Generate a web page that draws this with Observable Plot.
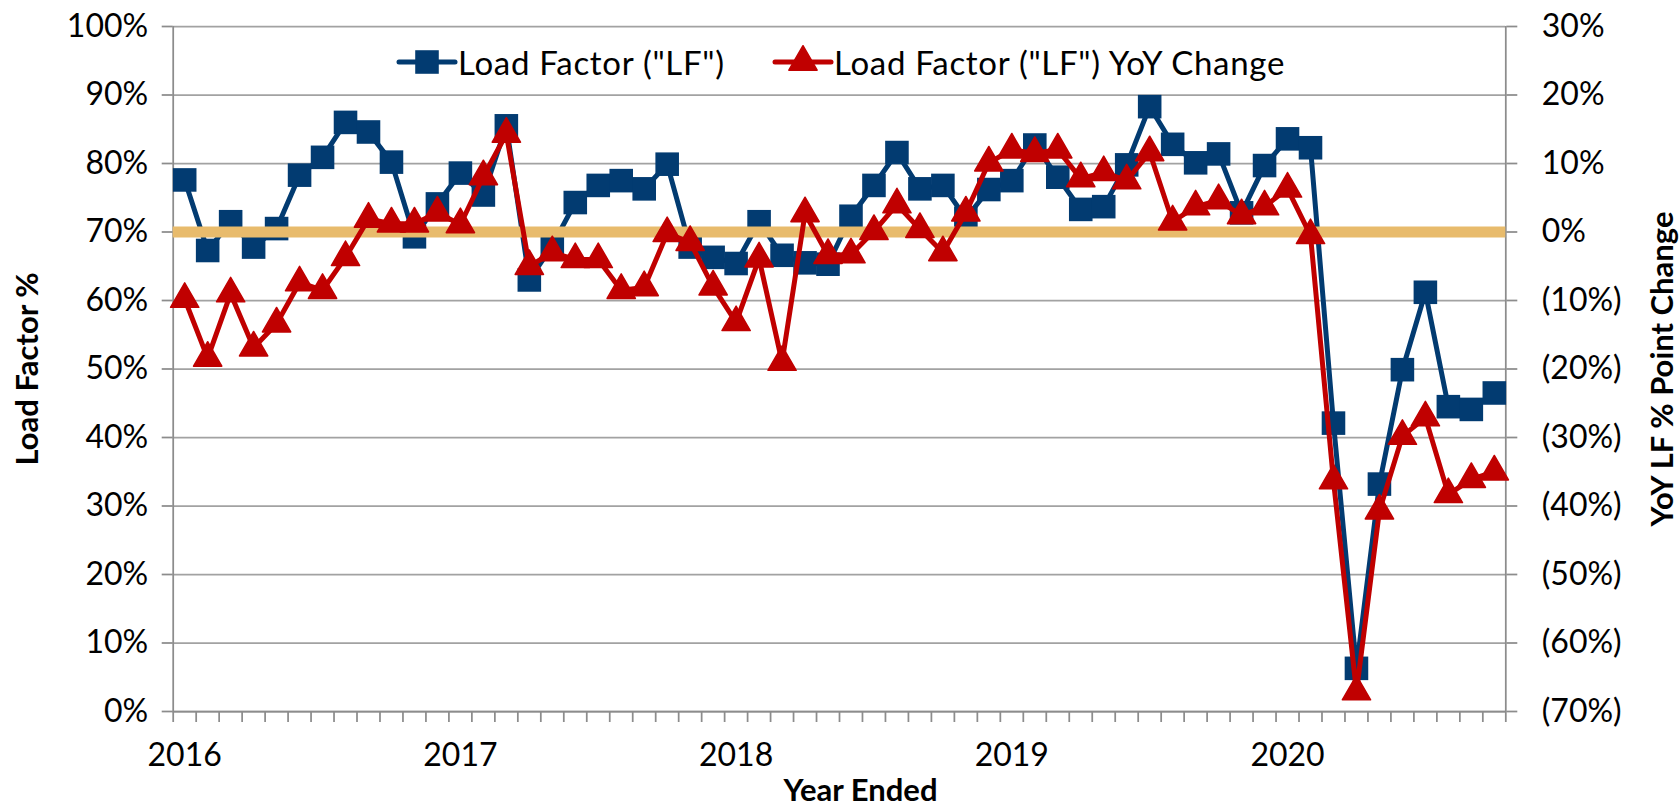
<!DOCTYPE html>
<html>
<head>
<meta charset="utf-8">
<script src="https://cdn.jsdelivr.net/npm/d3@7"></script>
<script src="https://cdn.jsdelivr.net/npm/@observablehq/plot@0.6"></script>
<style>
  html, body { margin: 0; padding: 0; background: #fff; }
  #wrap { position: relative; width: 1680px; height: 810px; overflow: hidden; font-family: Lato, "Noto Sans", sans-serif; }
  .leg { position: absolute; display: flex; align-items: center; font-size: 33px; letter-spacing: 0.7px; color: #000; white-space: nowrap; height: 36px; }
  .leg svg { display: block; }
</style>
</head>
<body>
<div id="wrap">
  <div id="chart"></div>
  <div class="leg" id="leg1" style="left:396px; top:44px;"></div>
  <div class="leg" id="leg2" style="left:772px; top:44px;"></div>
</div>
<script>
// ---- data ----
const years = ["2016", "2017", "2018", "2019", "2020"];
const seriesNames = ['Load Factor ("LF")', 'Load Factor ("LF") YoY Change'];
// monthly categories Jan-2016 .. Oct-2020
const months = d3.utcMonths(new Date(Date.UTC(2016, 0, 1)), new Date(Date.UTC(2020, 10, 1)));
const loadFactor = [
  77.6, 67.3, 71.5, 67.8, 70.5, 78.3, 80.9, 86.0, 84.6, 80.2, 69.3, 74.1,
  78.6, 75.4, 85.5, 63.0, 68.0, 74.3, 76.8, 77.5, 76.3, 79.9, 67.8, 66.3,
  65.4, 71.5, 66.6, 65.5, 65.3, 72.3, 76.8, 81.6, 76.3, 76.8, 72.0, 76.2,
  77.5, 82.7, 78.0, 73.3, 73.7, 79.8, 88.3, 82.8, 80.1, 81.4, 72.8, 79.7,
  83.6, 82.3, 42.1, 6.3, 33.2, 49.9, 61.2, 44.5, 44.1, 46.5
];
const yoyChange = [
  -9.8, -18.4, -9.0, -16.9, -13.4, -7.4, -8.5, -3.7, 1.9, 1.2, 1.2, 2.8,
  1.1, 8.1, 14.3, -5.0, -3.0, -4.0, -4.0, -8.5, -8.1, -0.2, -1.5, -8.0,
  -13.2, -3.9, -19.0, 2.7, -3.4, -3.3, 0.1, 4.0, 0.4, -3.0, 2.8, 10.1,
  12.0, 11.5, 12.0, 7.8, 8.7, 7.5, 11.6, 1.5, 3.7, 4.6, 2.4, 3.7,
  6.3, -0.5, -36.3, -67.1, -40.7, -29.8, -27.1, -38.3, -36.1, -35.0
];
const leftTicks = [0, 10, 20, 30, 40, 50, 60, 70, 80, 90, 100];
const rightTicks = [-70, -60, -50, -40, -30, -20, -10, 0, 10, 20, 30];
const zeroLine = [0];

// ---- styling ----
const BLUE = "#023b71", RED = "#c00000", GOLD = "#e8bb6c", GRID = "#a2a2a2", AXIS = "#8c8c8c";
const OFFSET = 70; // right axis 0% aligns with left axis 70%

const rows = months.map((m, i) => ({i, month: m, lf: loadFactor[i], yoy: yoyChange[i] + OFFSET}));
const boundaries = d3.range(-0.5, months.length, 1);
const yearIdx = years.map(y => months.findIndex(m => m.getUTCFullYear() === +y && m.getUTCMonth() === 0));

const fmtRight = d => d < 0 ? `(${-d}%)` : `${d}%`;

const chart = Plot.plot({
  width: 1680,
  height: 810,
  marginTop: 26,
  marginBottom: 99,
  marginLeft: 172.7,
  marginRight: 174.7,
  x: {domain: [-0.5, months.length - 0.5], axis: null},
  y: {domain: [0, 100], axis: null},
  style: {fontFamily: "Lato, 'Noto Sans', sans-serif", fontSize: "32px", color: "#000", background: "#fff", overflow: "visible"},
  marks: [
    Plot.gridY(leftTicks, {stroke: GRID, strokeOpacity: 1, strokeWidth: 1.75}),
    // left / right axis ticks & labels
    Plot.axisY(leftTicks, {anchor: "left", tickSize: 11, tickPadding: 14, tickFormat: d => d + "%", stroke: AXIS, strokeWidth: 1.75, fill: "#000", fontSize: 32, label: null}),
    Plot.axisY(rightTicks.map(d => d + OFFSET), {anchor: "right", tickSize: 11, tickPadding: 25, tickFormat: d => fmtRight(d - OFFSET), stroke: AXIS, strokeWidth: 1.75, fill: "#000", fontSize: 32, label: null}),
    Plot.ruleX([-0.5, months.length - 0.5], {stroke: AXIS, strokeWidth: 1.75}),
    Plot.ruleY([0], {stroke: AXIS, strokeWidth: 1.75}),
    // x axis: tick marks between months, year labels under January
    Plot.axisX(boundaries, {anchor: "bottom", tickSize: 11, tickFormat: () => "", stroke: AXIS, strokeWidth: 1.75, label: null}),
    Plot.axisX(yearIdx, {anchor: "bottom", tickSize: 0, tickPadding: 32, tickFormat: i => years[yearIdx.indexOf(i)], fill: "#000", fontSize: 32, label: null}),
    // Load factor series
    Plot.line(rows, {x: "i", y: "lf", stroke: BLUE, strokeWidth: 5, strokeLinejoin: "round", strokeLinecap: "round"}),
    Plot.dot(rows, {x: "i", y: "lf", symbol: "square", r: 13.3, fill: BLUE, stroke: "none"}),
    // zero line of the YoY axis
    Plot.ruleY(zeroLine.map(d => d + OFFSET), {stroke: GOLD, strokeWidth: 11}),
    // YoY series
    Plot.line(rows, {x: "i", y: "yoy", stroke: RED, strokeWidth: 5, strokeLinejoin: "round", strokeLinecap: "round"}),
    Plot.dot(rows, {x: "i", y: "yoy", symbol: "triangle", r: 10.5, fill: RED, stroke: RED, strokeWidth: 1.5, strokeLinejoin: "round"}),
    // axis titles
    Plot.text(["Load Factor %"], {frameAnchor: "left", textAnchor: "middle", lineAnchor: "middle", dx: -145, rotate: -90, fontWeight: "bold", fontSize: 31, fill: "#000"}),
    Plot.text(["YoY LF % Point Change"], {frameAnchor: "right", textAnchor: "middle", lineAnchor: "middle", dx: 157, rotate: -90, fontWeight: "bold", fontSize: 31, fill: "#000"}),
    Plot.text(["Year Ended"], {frameAnchor: "bottom", textAnchor: "middle", lineAnchor: "middle", dy: 80, dx: 21, fontWeight: "bold", fontSize: 31, fill: "#000"})
  ]
});
document.getElementById("chart").appendChild(chart);

// ---- legend (inside the plot area, top) ----
function legendItem(el, color, symbol, name) {
  const ns = "http://www.w3.org/2000/svg";
  const svg = document.createElementNS(ns, "svg");
  svg.setAttribute("width", 62); svg.setAttribute("height", 36);
  const line = document.createElementNS(ns, "line");
  line.setAttribute("x1", 3); line.setAttribute("x2", 59); line.setAttribute("y1", 18); line.setAttribute("y2", 18);
  line.setAttribute("stroke", color); line.setAttribute("stroke-width", 5); line.setAttribute("stroke-linecap", "round");
  svg.appendChild(line);
  const p = document.createElementNS(ns, "path");
  const sym = symbol === "square" ? d3.symbolSquare : d3.symbolTriangle;
  const size = symbol === "square" ? Math.PI * 13.3 * 13.3 : Math.PI * 10.5 * 10.5;
  p.setAttribute("d", d3.symbol(sym, size)());
  p.setAttribute("transform", "translate(31,18)");
  p.setAttribute("fill", color);
  if (symbol !== "square") { p.setAttribute("stroke", color); p.setAttribute("stroke-width", 1.5); p.setAttribute("stroke-linejoin", "round"); }
  svg.appendChild(p);
  el.appendChild(svg);
  const span = document.createElement("span");
  span.textContent = name;
  span.style.marginLeft = "0px";
  el.appendChild(span);
}
legendItem(document.getElementById("leg1"), BLUE, "square", seriesNames[0]);
legendItem(document.getElementById("leg2"), RED, "triangle", seriesNames[1]);
</script>
</body>
</html>
